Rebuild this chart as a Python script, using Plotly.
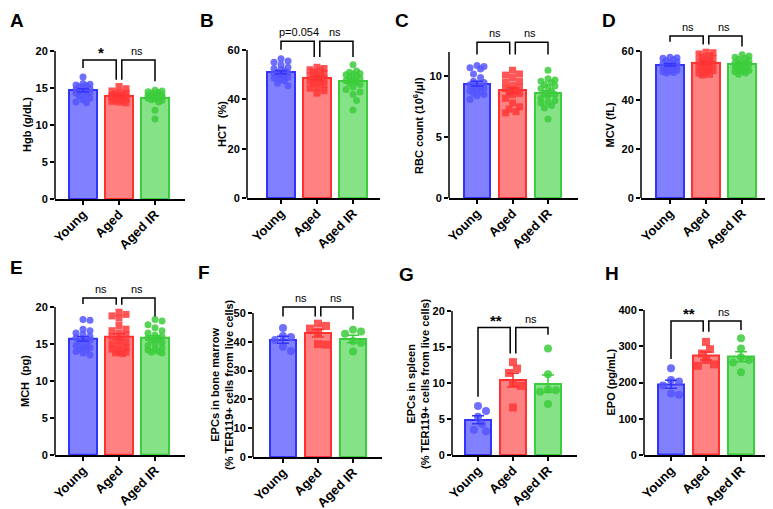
import numpy as np
import plotly.graph_objects as go

W, H = 773, 509
OFF = 8  # the page puts the plot 8px in from the top-left corner

GROUPS = ["Young", "Aged", "Aged IR"]

# A  Hgb (g/dL)
HGB_YOUNG = [16.5, 15.6, 15.5, 15.4, 15.3, 15.2, 15.0, 14.9, 14.8, 14.7, 14.6, 14.5, 14.4, 14.3, 14.1, 13.9, 13.6, 13.4, 13.1, 13.0]
HGB_AGED = [15.2, 14.9, 14.6, 14.4, 14.3, 14.2, 14.1, 14.0, 13.9, 13.9, 13.8, 13.7, 13.6, 13.5, 13.4, 13.3, 13.2, 13.1, 13.0, 13.7]
HGB_AGED_IR = [14.7, 14.6, 14.5, 14.4, 14.3, 14.2, 14.1, 14.0, 14.0, 13.9, 13.8, 13.7, 13.6, 13.5, 13.4, 13.3, 13.1, 12.0, 10.8, 13.9]
HGB_MEAN = [14.7, 13.9, 13.7]
HGB_SEM = [0.2, 0.14, 0.2]

# B  HCT (%)
HCT_YOUNG = [56.5, 55.5, 55.0, 54.0, 53.0, 52.5, 52.0, 51.5, 51.0, 50.8, 50.5, 50.0, 49.8, 49.5, 49.0, 48.5, 48.0, 47.5, 46.5, 45.5]
HCT_AGED = [53.0, 52.5, 52.0, 51.5, 51.0, 50.5, 50.0, 49.5, 49.0, 48.5, 48.0, 47.5, 47.0, 46.5, 46.0, 45.0, 44.5, 43.5, 42.5, 48.8]
HCT_AGED_IR = [54.0, 51.5, 51.0, 50.5, 50.2, 50.0, 49.5, 49.0, 48.5, 48.0, 47.5, 47.0, 46.5, 46.0, 45.0, 44.0, 43.0, 42.0, 39.5, 35.7]
HCT_MEAN = [51.0, 48.5, 47.5]
HCT_SEM = [0.6, 0.65, 0.9]

# C  RBC count
RBC_YOUNG = [10.9, 10.8, 10.7, 10.6, 10.2, 9.9, 9.6, 9.5, 9.4, 9.3, 9.2, 9.1, 9.0, 8.9, 8.8, 8.7, 8.6, 8.5, 8.4, 8.1]
RBC_AGED = [10.5, 10.2, 10.1, 9.9, 9.6, 9.5, 9.3, 9.1, 9.0, 8.9, 8.8, 8.7, 8.6, 8.5, 8.2, 7.8, 7.5, 7.3, 7.1, 7.0]
RBC_AGED_IR = [10.5, 9.8, 9.7, 9.6, 9.5, 9.3, 9.1, 9.0, 8.8, 8.6, 8.5, 8.4, 8.2, 8.0, 7.9, 7.8, 7.6, 7.4, 6.5, 9.2]
RBC_MEAN = [9.4, 8.85, 8.6]
RBC_SEM = [0.2, 0.22, 0.22]

# D  MCV (fL)
MCV_YOUNG = [57.5, 57.2, 57.0, 56.5, 56.0, 55.5, 55.0, 54.8, 54.5, 54.0, 53.8, 53.5, 53.0, 52.5, 52.0, 51.8, 51.5, 51.2, 51.0, 55.3]
MCV_AGED = [59.5, 59.3, 58.8, 58.0, 57.5, 57.0, 56.5, 56.0, 55.5, 55.0, 54.5, 54.0, 53.5, 53.0, 52.5, 52.0, 51.5, 51.0, 50.5, 50.2]
MCV_AGED_IR = [58.5, 58.0, 57.5, 57.0, 56.5, 56.0, 55.5, 55.0, 54.8, 54.5, 54.0, 53.5, 53.0, 52.5, 52.0, 51.8, 51.5, 51.0, 50.5, 55.2]
MCV_MEAN = [54.3, 55.0, 54.7]
MCV_SEM = [0.45, 0.6, 0.5]

# E  MCH (pg)
MCH_YOUNG = [18.3, 18.2, 17.0, 16.8, 16.5, 16.3, 16.0, 15.8, 15.6, 15.5, 15.3, 15.0, 14.8, 14.6, 14.5, 14.3, 14.2, 14.0, 13.8, 13.5]
MCH_AGED = [19.3, 19.0, 18.8, 18.5, 17.5, 17.0, 16.8, 16.5, 16.2, 16.0, 15.5, 15.0, 14.8, 14.5, 14.3, 14.0, 13.9, 13.8, 13.7, 15.2]
MCH_AGED_IR = [18.3, 18.1, 17.6, 17.2, 16.8, 16.5, 16.0, 15.8, 15.6, 15.5, 15.2, 15.0, 14.8, 14.5, 14.3, 14.2, 14.0, 13.9, 13.8, 16.2]
MCH_MEAN = [15.7, 16.0, 15.8]
MCH_SEM = [0.3, 0.4, 0.3]

# F  EPCs in bone marrow
BM_YOUNG = [44.8, 42.0, 41.7, 40.6, 38.3, 36.8]
BM_AGED = [46.3, 45.5, 44.6, 43.4, 39.0, 39.2]
BM_AGED_IR = [44.2, 43.6, 42.8, 40.3, 39.7, 36.6]
BM_MEAN = [40.7, 43.0, 41.0]
BM_SEM = [1.2, 1.3, 1.3]

# G  EPCs in spleen
SP_YOUNG = [6.8, 6.1, 5.3, 4.3, 3.5, 3.3]
SP_AGED = [12.9, 12.0, 11.4, 10.0, 9.6, 6.6]
SP_AGED_IR = [14.8, 11.2, 9.0, 8.8, 9.1, 7.1]
SP_MEAN = [4.9, 10.4, 9.9]
SP_SEM = [0.55, 0.95, 1.2]

# H  EPO (pg/mL)
EPO_YOUNG = [239, 207, 203, 192, 170, 166]
EPO_AGED = [312, 292, 280, 262, 250, 246]
EPO_AGED_IR = [322, 294, 270, 262, 255, 228]
EPO_MEAN = [195, 273, 271]
EPO_SEM = [11, 11, 14]

BAR_FILL = ["#8181ff", "#ff8282", "#86e286"]
BAR_LINE = ["#3333ff", "#ff3131", "#3dcc3d"]
POINT_COLOR = ["rgba(85,85,255,0.85)", "rgba(255,55,55,0.85)", "rgba(60,205,60,0.85)"]
POINT_SYMBOL = ["circle", "square", "circle"]
FONT = "Arial, Liberation Sans, sans-serif"

# box = (axis left px, axis right px, first bar px, last bar px, y of 0 px, y of axis max px)
PANELS = [
    dict(letter="A", lpos=(8, 15), vals=(HGB_YOUNG, HGB_AGED, HGB_AGED_IR), mean=HGB_MEAN, sem=HGB_SEM,
         box=(55, 185, 83, 155, 199, 51), ymax=20, dtick=5, title="Hgb (g/dL)", tx=27,
         br=dict(top=18.8, legs=[17.7, 16.1, 16.1, 15.9], labels=["*", "ns"]), msize=7),
    dict(letter="B", lpos=(198, 13), vals=(HCT_YOUNG, HCT_AGED, HCT_AGED_IR), mean=HCT_MEAN, sem=HCT_SEM,
         box=(247, 380, 281, 353, 198, 50), ymax=60, dtick=20, title="HCT  (%)", tx=222,
         br=dict(top=63.5, legs=[60.1, 57.2, 57.2, 57.2], labels=["p=0.054", "ns"]), msize=7),
    dict(letter="C", lpos=(393, 12), vals=(RBC_YOUNG, RBC_AGED, RBC_AGED_IR), mean=RBC_MEAN, sem=RBC_SEM,
         box=(449, 578, 477, 548, 198, 52), ymax=12, dtick=5, title="RBC count (10<sup>6</sup>/μl)", tx=418,
         br=dict(top=12.8, legs=[11.8, 11.8, 11.8, 11.8], labels=["ns", "ns"]), msize=7),
    dict(letter="D", lpos=(600, 12), vals=(MCV_YOUNG, MCV_AGED, MCV_AGED_IR), mean=MCV_MEAN, sem=MCV_SEM,
         box=(641, 771, 670, 742, 198, 51), ymax=60, dtick=20, title="MCV (fL)", tx=610,
         br=dict(top=66.1, legs=[63.8, 62.7, 62.7, 61.8], labels=["ns", "ns"]), msize=7),
    dict(letter="E", lpos=(6, 267), vals=(MCH_YOUNG, MCH_AGED, MCH_AGED_IR), mean=MCH_MEAN, sem=MCH_SEM,
         box=(55, 185, 83, 155, 455, 307), ymax=20, dtick=5, title="MCH  (pg)", tx=25,
         br=dict(top=21.2, legs=[20.4, 20.3, 20.3, 18.7], labels=["ns", "ns"]), msize=7),
    dict(letter="F", lpos=(196, 272), vals=(BM_YOUNG, BM_AGED, BM_AGED_IR), mean=BM_MEAN, sem=BM_SEM,
         box=(253, 382, 283, 353, 457, 313), ymax=50, dtick=10,
         title="EPCs in bone marrow<br>(% TER119+ cells from live cells)", tx=222,
         br=dict(top=52.1, legs=[48.8, 48.8, 48.8, 47.7], labels=["ns", "ns"]), msize=8),
    dict(letter="G", lpos=(397, 274), vals=(SP_YOUNG, SP_AGED, SP_AGED_IR), mean=SP_MEAN, sem=SP_SEM,
         box=(452, 577, 478, 548, 455, 311), ymax=20, dtick=5,
         title="EPCs in spleen<br>(% TER119+ cells from live cells)", tx=418,
         br=dict(top=17.7, legs=[8.1, 14.1, 14.1, 16.7], labels=["**", "ns"]), msize=8),
    dict(letter="H", lpos=(603, 273), vals=(EPO_YOUNG, EPO_AGED, EPO_AGED_IR), mean=EPO_MEAN, sem=EPO_SEM,
         box=(644, 771, 671, 741, 455, 310), ymax=400, dtick=100, title="EPO (pg/mL)", tx=610,
         br=dict(top=370, legs=[265, 340, 340, 345], labels=["**", "ns"]), msize=8),
]


def fx(px):
    return (px - OFF) / W


def fy(py):
    return 1 - (py - OFF) / H


def swarm(values, scale, diam, half):
    vals = np.asarray(values, float)
    ypx = vals * scale
    steps = [0.0]
    k = 1
    while k * diam * 0.5 <= half:
        steps += [k * diam * 0.5, -k * diam * 0.5]
        k += 1
    placed = []
    out = np.zeros(len(vals))
    for i in np.argsort(-vals):
        best, bestd = 0.0, -1.0
        for s in steps:
            d = min([np.hypot(s - px, ypx[i] - py) for px, py in placed], default=1e9)
            if d >= diam * 0.95:
                best = s
                break
            if d > bestd:
                best, bestd = s, d
        out[i] = best
        placed.append((best, ypx[i]))
    return out


fig = go.Figure()
shapes = []
annotations = []
layout = {}

for n, p in enumerate(PANELS, start=1):
    xa = "x" if n == 1 else f"x{n}"
    ya = "y" if n == 1 else f"y{n}"
    left, right, c0, c2, y0, ytop = p["box"]
    sp = (c2 - c0) / 2
    scale = (y0 - ytop) / p["ymax"]
    dom_top = max(y0 - p["ymax"] * 1.32 * scale, OFF + 1)
    rmax = (y0 - dom_top) / scale

    fig.add_trace(go.Bar(
        x=[0, 1, 2], y=p["mean"], width=0.76,
        marker=dict(color=BAR_FILL, line=dict(color=BAR_LINE, width=2)),
        xaxis=xa, yaxis=ya, hoverinfo="skip",
    ))

    for g in range(3):
        offs = swarm(p["vals"][g], scale, p["msize"], 0.38 * sp - p["msize"] / 2)
        fig.add_trace(go.Scatter(
            x=g + offs / sp, y=p["vals"][g], mode="markers",
            marker=dict(size=p["msize"], color=POINT_COLOR[g], symbol=POINT_SYMBOL[g], line=dict(width=0)),
            xaxis=xa, yaxis=ya, cliponaxis=False,
        ))

    for g in range(3):
        fig.add_trace(go.Scatter(
            x=[g], y=[p["mean"][g]], mode="markers", marker=dict(size=1, color="rgba(0,0,0,0)"),
            error_y=dict(type="data", array=[p["sem"][g]], color=BAR_LINE[g], thickness=1.5, width=6),
            xaxis=xa, yaxis=ya,
        ))

    br = p["br"]
    gap = 2.8 / sp
    l1, l2, r1, r2 = br["legs"]
    top = br["top"]
    for path in (f"M 0 {l1} L 0 {top} L {1 - gap} {top} L {1 - gap} {l2}",
                 f"M {1 + gap} {r1} L {1 + gap} {top} L 2 {top} L 2 {r2}"):
        shapes.append(dict(type="path", path=path, xref=xa, yref=ya, line=dict(color="black", width=1.5)))
    for xc, lab in ((0.5, br["labels"][0]), (1.5, br["labels"][1])):
        star = "*" in lab
        annotations.append(dict(
            x=xc, y=top, xref=xa, yref=ya, text=f"<b>{lab}</b>" if star else lab,
            showarrow=False, xanchor="center", yanchor="bottom", yshift=-3 if star else 1,
            font=dict(family=FONT, size=15 if star else 11, color="black"),
        ))

    shapes.append(dict(type="line", xref="paper", yref="paper",
                       x0=fx(left), x1=fx(left), y0=fy(y0), y1=fy(ytop),
                       line=dict(color="black", width=1.5)))

    annotations.append(dict(
        x=fx(p["tx"]), y=fy((y0 + ytop) / 2), xref="paper", yref="paper",
        text=f"<b>{p['title']}</b>", textangle=-90, showarrow=False,
        xanchor="center", yanchor="middle",
        font=dict(family=FONT, size=11, color="black"),
    ))
    lx, ly = p["lpos"]
    annotations.append(dict(
        x=max(fx(lx), 0), y=fy(max(ly - 12, OFF)), xref="paper", yref="paper",
        text=f"<b>{p['letter']}</b>", showarrow=False, xanchor="left", yanchor="top",
        font=dict(family=FONT, size=19, color="black"),
    ))

    layout["xaxis" if n == 1 else f"xaxis{n}"] = dict(
        domain=[fx(left), min(fx(right), 1)], anchor=ya, automargin=False,
        range=[-(c0 - left) / sp, 2 + (right - c2) / sp],
        tickvals=[0, 1, 2], ticktext=GROUPS, tickangle=-45, ticklabelstandoff=-3,
        tickfont=dict(family=FONT, size=13, color="black", weight="bold"),
        showline=True, linecolor="black", linewidth=1.5,
        ticks="outside", ticklen=4, tickwidth=1.5, tickcolor="black",
        showgrid=False, zeroline=False, fixedrange=True,
    )
    layout["yaxis" if n == 1 else f"yaxis{n}"] = dict(
        domain=[fy(y0), fy(dom_top)], anchor=xa, automargin=False,
        range=[0, rmax],
        tickvals=list(range(0, p["ymax"] + 1, p["dtick"])),
        tickfont=dict(family=FONT, size=11, color="black", weight="bold"),
        showline=False, ticks="outside", ticklen=4, tickwidth=1.5, tickcolor="black",
        showgrid=False, zeroline=False, fixedrange=True,
    )

fig.update_layout(
    width=W, height=H,
    margin=dict(l=0, r=0, t=0, b=0, autoexpand=False),
    paper_bgcolor="white", plot_bgcolor="white",
    showlegend=False, bargap=0,
    shapes=shapes, annotations=annotations,
    **layout,
)

fig.write_html("out.html")
